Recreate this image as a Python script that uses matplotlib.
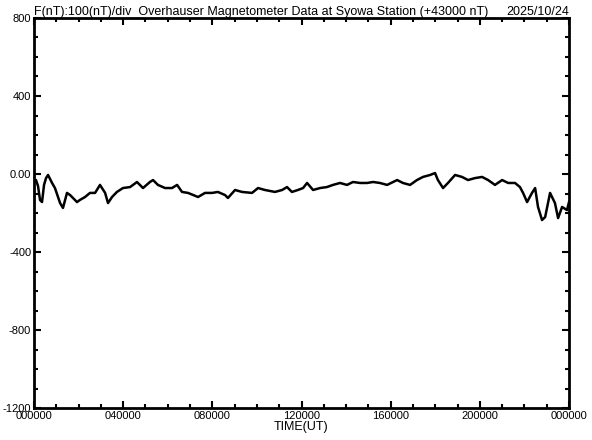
import numpy as np
import matplotlib
matplotlib.use("Agg")
import matplotlib.pyplot as plt
from matplotlib.ticker import MultipleLocator

# hours since 00 UT and total field offset from 43000 nT
hours = [0.00, 0.09, 0.18, 0.27, 0.36, 0.45, 0.54, 0.63, 0.81, 0.94,
         1.17, 1.30, 1.48, 1.62, 1.93, 2.06, 2.29, 2.51, 2.74, 2.96,
         3.19, 3.32, 3.50, 3.72, 3.99, 4.31, 4.62, 4.89, 5.20, 5.34,
         5.56, 5.88, 6.19, 6.42, 6.64, 6.91, 7.36, 7.67, 7.99, 8.25,
         8.57, 8.70, 9.02, 9.33, 9.78, 10.05, 10.36, 10.81, 11.13, 11.35,
         11.57, 11.84, 12.07, 12.25, 12.52, 12.83, 13.14, 13.41, 13.73, 14.04,
         14.31, 14.63, 14.94, 15.21, 15.52, 15.84, 16.29, 16.55, 16.87, 17.18,
         17.45, 17.77, 17.99, 18.12, 18.35, 18.57, 18.89, 19.20, 19.47, 19.78,
         20.10, 20.37, 20.68, 21.00, 21.27, 21.58, 21.80, 21.94, 22.12, 22.34,
         22.48, 22.61, 22.79, 22.93, 23.15, 23.37, 23.51, 23.69, 23.91, 24.00]
f_nt = [-41, -31, -62, -133, -144, -56, -21, -5, -46, -72,
        -149, -174, -97, -108, -144, -133, -118, -97, -97, -56,
        -97, -149, -118, -92, -72, -67, -41, -72, -41, -31,
        -56, -72, -72, -56, -92, -97, -118, -97, -97, -92,
        -108, -123, -82, -92, -97, -72, -82, -92, -82, -67,
        -92, -82, -72, -46, -82, -72, -67, -56, -46, -56,
        -41, -46, -46, -41, -46, -56, -31, -46, -56, -31,
        -15, -5, 5, -31, -72, -46, -5, -15, -31, -21,
        -15, -31, -56, -31, -46, -46, -67, -97, -144, -97,
        -72, -169, -236, -221, -97, -149, -226, -169, -185, -144]

x_ticks = [0, 4, 8, 12, 16, 20, 24]
x_labels = ["000000", "040000", "080000", "120000", "160000", "200000", "000000"]
y_ticks = [800, 400, 0, -400, -800, -1200]
y_labels = ["800", "400", "0.00", "-400", "-800", "-1200"]

plt.rcParams['font.family'] = ['Liberation Sans Narrow', 'Liberation Sans', 'DejaVu Sans']

fig = plt.figure(figsize=(5.92, 4.40), dpi=100)
ax = fig.add_axes([34 / 592, 32 / 440, 535 / 592, 390 / 440])
ax.plot(hours, f_nt, color='black', lw=1.8)

ax.set_xlim(0, 24)
ax.set_ylim(-1200, 800)
ax.set_xticks(x_ticks)
ax.set_xticklabels(x_labels)
ax.set_yticks(y_ticks)
ax.set_yticklabels(y_labels)
ax.xaxis.set_minor_locator(MultipleLocator(1))
ax.yaxis.set_minor_locator(MultipleLocator(100))
ax.tick_params(which='both', direction='in', top=True, right=True, width=1.5,
               labelsize=8, pad=2)
ax.tick_params(which='major', length=5)
ax.tick_params(which='minor', length=3)
for s in ax.spines.values():
    s.set_linewidth(2)

ax.set_xlabel('TIME(UT)', fontsize=9, labelpad=0)
fig.text(34 / 592, 1 - 12 / 440,
         'F(nT):100(nT)/div  Overhauser Magnetometer Data at Syowa Station (+43000 nT)',
         fontsize=9, va='center', ha='left')
fig.text(569 / 592, 1 - 12 / 440, '2025/10/24', fontsize=9, va='center', ha='right')

fig.savefig('out.png', dpi=100)
